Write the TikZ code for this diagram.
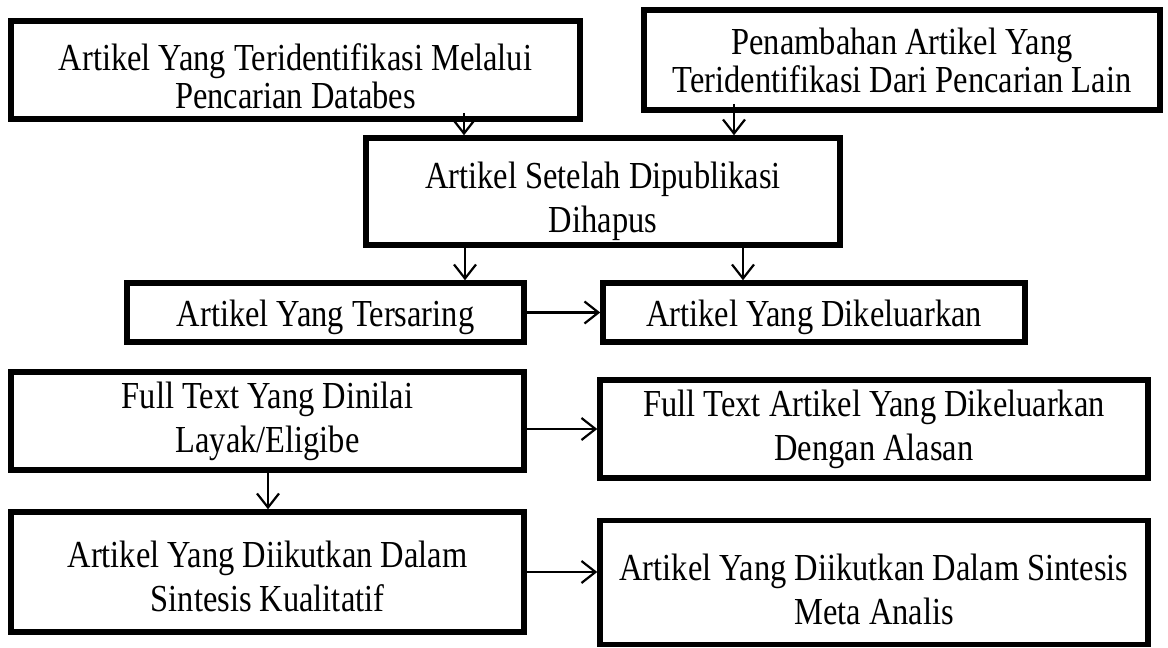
\documentclass[tikz,border=0pt]{standalone}
\usepackage{fontspec}
\setmainfont{Liberation Serif}[FakeStretch=0.85]
\usetikzlibrary{arrows.meta,positioning}

\newcommand{\lowr}[1]{\rule{0pt}{#1}}

\tikzset{
  box/.style={draw, line width=5.5pt, align=center, inner sep=0pt,
    font=\fontsize{38.2}{38}\selectfont},
  loose/.style={font=\fontsize{38.2}{44}\selectfont},
  arr/.style={-{Straight Barb[length=14pt,width=22pt]}, line width=2.2pt},
}

\begin{document}
\begin{tikzpicture}[x=1pt, y=-1pt]
  \useasboundingbox (0,0) rectangle (1168,648);

  % identification
  \node[box, minimum width=569pt, minimum height=98pt] (dbase) at (295.5,70)
    {\lowr{40pt}Artikel Yang Teridentifikasi Melalui\\Pencarian Databes};
  \node[box, minimum width=516pt, minimum height=100pt] (other) at (902,60)
    {Penambahan Artikel Yang\\Teridentifikasi Dari Pencarian Lain};

  % screening
  \node[box, loose, minimum width=474pt, minimum height=107pt] (removed) at (603,191.5)
    {\lowr{46pt}Artikel Setelah Dipublikasi\\Dihapus};
  \node[box, minimum width=397pt, minimum height=59pt] (screened) at (325.5,312.5)
    {\lowr{36pt}Artikel Yang Tersaring};
  \node[box, minimum width=422pt, minimum height=59pt] (excluded) at (814,312.5)
    {\lowr{36pt}Artikel Yang Dikeluarkan};

  % eligibility
  \node[box, loose, minimum width=513pt, minimum height=98pt] (eligible) at (267.5,421)
    {Full Text Yang Dinilai\\Layak/Eligibe};
  \node[box, loose, minimum width=548pt, minimum height=98pt] (ftexcl) at (874,429)
    {Full Text Artikel Yang Dikeluarkan\\Dengan Alasan};

  % included
  \node[box, loose, minimum width=513pt, minimum height=120pt] (quali) at (267.5,572)
    {\lowr{36pt}Artikel Yang Diikutkan Dalam\\Sintesis Kualitatif};
  \node[box, loose, minimum width=548pt, minimum height=124pt] (meta) at (874,582.5)
    {\lowr{40pt}Artikel Yang Diikutkan Dalam Sintesis\\Meta Analis};

  \coordinate (c1) at (464,0);
  \coordinate (c2) at (734,0);
  \coordinate (c3) at (465,0);
  \coordinate (c4) at (743,0);
  \coordinate (c5) at (268,0);

  \draw[arr] ([yshift=9pt]dbase.south -| c1) -- (removed.north -| c1);
  \draw[arr] ([yshift=9pt]other.south -| c2) -- (removed.north -| c2);
  \draw[arr] (removed.south -| c3) -- (screened.north -| c3);
  \draw[arr] (removed.south -| c4) -- (excluded.north -| c4);
  \draw[arr] (screened.east) -- (excluded.west);
  \draw[arr] (ftexcl.west -| eligible.east) -- (ftexcl.west);
  \draw[arr] (eligible.south -| c5) -- (quali.north -| c5);
  \draw[arr] (quali.east) -- (quali.east -| meta.west);

\end{tikzpicture}
\end{document}
